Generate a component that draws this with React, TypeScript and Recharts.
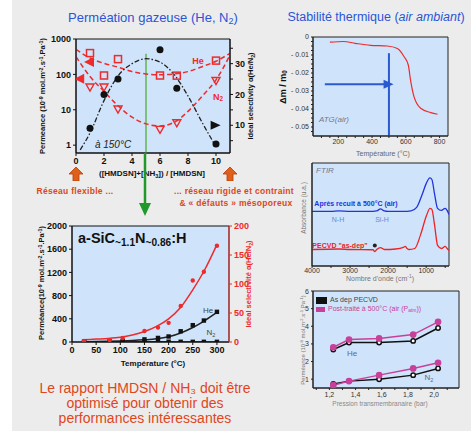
import React from "react";
import {
  ComposedChart,
  Line,
  Scatter,
  XAxis,
  YAxis,
  CartesianGrid,
  ReferenceLine,
  ReferenceArea,
  Legend,
} from "recharts";

const FONT = '"Liberation Sans", Arial, sans-serif';
const PLOT_BG = "#cfe4fa";
const PANEL_BG = "#ececec";
const RED = "#ee2a2a";
const BLUE_TITLE = "#2a55d6";
const ORANGE = "#d9481a";
const MAGENTA = "#c8409a";

// Perméation gazeuse vs ([HMDSN]+[NH3])/[HMDSN], at 150°C
const ratioTicks = [0, 2, 4, 6, 8, 10];
const permLogTicks = [1, 10, 100, 1000];
const selRatioTicks = [5, 10, 15, 20, 25, 30, 35];
const ratioX = [1, 2, 3, 6, 7.2, 10];
const heRatioPerm = [400, 93, 270, 93, 92, 245];
const n2RatioPerm = [44, 44, 10.5, 2.8, 4.3, 67];
const selRatio = [9, 20, 25, 34.5, 22, 3.9];
const fitRatioX = [0, 1, 2, 3, 4, 5, 6, 7, 8, 9, 10, 11];
const heRatioFit = [510, 290, 205, 160, 120, 103, 97, 103, 120, 165, 235, 395];
const n2RatioFit = [316, 87, 33, 13, 6.2, 4, 3.5, 4.4, 9, 24, 70, 350];
const selFitX = [0.3, 1, 2, 3, 4, 5, 6, 7, 8, 9, 10];
const selRatioFit = [2, 7.5, 18, 26, 30, 31.6, 30.5, 26.5, 19.5, 11, 3];
const permArrowX = [1, 0.3];
const permArrowY = [225, 75];
const selArrowX = [9.9];
const selArrowY = [10];

// a-SiCN:H vs température
const tempTicks = [0, 50, 100, 150, 200, 250, 300];
const permLinTicks = [0, 400, 800, 1200, 1600, 2000];
const selTempTicks = [0, 50, 100, 150, 200];
const tempX = [25, 78, 105, 150, 178, 200, 225, 250, 273, 300];
const heTemp = [5, 10, 20, 45, 70, 95, 185, 290, 370, 520];
const n2Temp = [0, 2, 3, 5, 5, 5, 4, 3, 3, 3];
const selTemp = [2, 3, 7, 19, 25, 33, 62, 106, 121, 166];
const fitTempX = [25, 50, 75, 100, 125, 150, 175, 200, 225, 250, 275, 300];
const heTempFit = [5, 8, 12, 18, 26, 38, 55, 90, 155, 250, 370, 510];
const selTempFit = [4, 5, 6, 8, 12, 18, 27, 40, 60, 90, 125, 168];

// ATG (air)
const atgXTicks = [100, 150, 200, 250, 300, 350, 400, 450, 500, 550, 600, 650, 700, 750, 800];
const atgYTicks = [0, -0.0025, -0.005, -0.0075, -0.01, -0.0125, -0.015, -0.0175, -0.02, -0.0225, -0.025, -0.0275, -0.03, -0.0325, -0.035, -0.0375, -0.04, -0.0425, -0.045, -0.0475, -0.05, -0.0525];
const atgT = [150, 230, 300, 390, 490, 550, 590, 615, 628, 648, 688, 748, 788];
const atgDm = [-0.0029, -0.0025, -0.0035, -0.0046, -0.005, -0.0064, -0.011, -0.0157, -0.024, -0.033, -0.0396, -0.042, -0.0429];
const atgArrowX = [492];
const atgArrowY = [-0.0263];

// FTIR
const ftirTicks = [4000, 3500, 3000, 2500, 2000, 1500, 1000, 500];
const waveRecuit = [4000, 3500, 3300, 3000, 2500, 2300, 2200, 2100, 2000, 1600, 1400, 1250, 1100, 1000, 900, 850, 780, 700, 600, 500, 450, 400];
const absRecuit = [0.53, 0.53, 0.535, 0.53, 0.53, 0.535, 0.555, 0.535, 0.53, 0.53, 0.535, 0.57, 0.7, 0.8, 0.855, 0.84, 0.7, 0.56, 0.54, 0.56, 0.54, 0.5];
const waveAsDep = [4000, 3300, 3000, 2400, 2350, 2300, 2200, 2100, 1800, 1600, 1550, 1500, 1450, 1300, 1150, 1000, 900, 850, 780, 700, 600, 500, 450, 400];
const absAsDep = [0.16, 0.165, 0.16, 0.158, 0.14, 0.16, 0.178, 0.16, 0.165, 0.18, 0.19, 0.17, 0.16, 0.17, 0.3, 0.48, 0.56, 0.55, 0.4, 0.2, 0.17, 0.19, 0.17, 0.15];
const starX = [2350];
const starY = [0.2];

// Perméance vs pression transmembranaire
const pressTicks = [1.1, 1.2, 1.3, 1.4, 1.5, 1.6, 1.7, 1.8, 1.9, 2.0, 2.1];
const permPressTicks = [1, 2, 3, 4, 5, 6];
const pressX = [1.23, 1.35, 1.58, 1.84, 2.03];
const heAsDep = [2.68, 3.08, 3.08, 3.17, 3.9];
const hePost = [2.81, 3.25, 3.31, 3.53, 4.25];
const n2AsDep = [0.73, 0.89, 1.0, 1.23, 1.61];
const n2Post = [0.66, 0.89, 1.23, 1.61, 1.93];

const pts = (xs: number[], ys: number[]) => xs.map((x, i) => ({ x, y: ys[i] }));

const OpenSquare = (p: any) => (
  <rect x={p.cx - 3.5} y={p.cy - 3.5} width={7} height={7} fill="none" stroke={RED} strokeWidth={1.5} />
);
const OpenTriDown = (p: any) => (
  <path d={`M${p.cx - 4},${p.cy - 3}L${p.cx + 4},${p.cy - 3}L${p.cx},${p.cy + 4}Z`} fill="none" stroke={RED} strokeWidth={1.4} />
);
const LeftArrow = (p: any) => (
  <path d={`M${p.cx - 6},${p.cy}L${p.cx + 4},${p.cy - 5}L${p.cx + 4},${p.cy + 5}Z`} fill={RED} />
);
const RightArrow = (color: string) => (p: any) => (
  <path d={`M${p.cx + 6},${p.cy}L${p.cx - 4},${p.cy - 4.5}L${p.cx - 4},${p.cy + 4.5}Z`} fill={color} />
);
const BlackDot = (p: any) => <circle cx={p.cx} cy={p.cy} r={3.5} fill="#111" />;
const SmallSquare = (p: any) => <rect x={p.cx - 2.2} y={p.cy - 2.2} width={4.4} height={4.4} fill="#111" />;
const SmallRedDot = (p: any) => <circle cx={p.cx} cy={p.cy} r={2.2} fill={RED} />;
const TinyDot = (p: any) => <circle cx={p.cx} cy={p.cy} r={2} fill="#222" />;

const Sup = ({ children }: { children: React.ReactNode }) => (
  <span style={{ fontSize: "0.7em", verticalAlign: "0.45em" }}>{children}</span>
);
const Sub = ({ children }: { children: React.ReactNode }) => (
  <span style={{ fontSize: "0.7em", verticalAlign: "-0.3em", lineHeight: 0 }}>{children}</span>
);

const T = ({ x, y, rot = 0, style, children }: any) => (
  <div
    style={{
      position: "absolute",
      left: x,
      top: y,
      transform: `translate(-50%, -50%) rotate(${rot}deg)`,
      whiteSpace: "nowrap",
      lineHeight: 1,
      fontFamily: FONT,
      ...style,
    }}
  >
    {children}
  </div>
);

const Box = ({ left, top, children }: any) => (
  <div style={{ position: "absolute", left, top }}>{children}</div>
);

const UpArrow = ({ x, y }: { x: number; y: number }) => (
  <svg style={{ position: "absolute", left: x - 7, top: y }} width={14} height={14}>
    <path d="M7,0L14,7L10,7L10,14L4,14L4,7L0,7Z" fill="#e0601a" stroke="#b83c08" strokeWidth={0.8} />
  </svg>
);

const tickBold = { fontSize: 9, fill: "#111", fontWeight: 700, fontFamily: FONT };
const tickRed = { fontSize: 9, fill: RED, fontWeight: 700, fontFamily: FONT };
const tickSmall = { fontSize: 7, fill: "#333", fontFamily: FONT };

const fmtAtg = (v: number) => {
  const r = Math.round(v * 10000);
  if (r === 0) return "0";
  if (r % 100 !== 0) return "";
  return `- ${Math.abs(v).toFixed(2)}`;
};

const App: React.FC = () => {
  return (
    <div style={{ position: "absolute", left: 0, top: 0, width: 471, height: 434, background: "#fff", overflow: "hidden" }}>
      <div style={{ position: "absolute", left: 12, top: 0, width: 459, height: 431, background: PANEL_BG }} />

      {/* titles */}
      <T x={153} y={17} style={{ fontSize: 13, color: BLUE_TITLE }}>
        Perméation gazeuse (He, N<Sub>2</Sub>)
      </T>
      <T x={376} y={17} style={{ fontSize: 12.5, color: BLUE_TITLE }}>
        Stabilité thermique (<i>air ambiant</i>)
      </T>

      {/* top-left: permeance & selectivity vs ratio */}
      <Box left={40} top={30}>
        <ComposedChart width={220} height={143} margin={{ top: 9, right: 0, bottom: 0, left: 0 }}>
          <CartesianGrid yAxisId="perm" fill={PLOT_BG} horizontal={false} vertical={false} />
          <XAxis type="number" dataKey="x" domain={[0, 11]} ticks={ratioTicks} interval={0} height={20} tick={tickBold} tickSize={3} allowDataOverflow stroke="#111" />
          <YAxis yAxisId="perm" dataKey="y" type="number" scale="log" domain={[0.6, 1000]} ticks={permLogTicks} interval={0} width={36} tick={tickBold} tickSize={3} allowDataOverflow stroke="#111" />
          <YAxis yAxisId="sel" dataKey="y" orientation="right" type="number" domain={[1, 38]} ticks={selRatioTicks} interval={0} tickFormatter={(v: number) => (v % 10 === 0 ? String(v) : "")} width={30} tick={tickBold} tickSize={3} allowDataOverflow stroke="#111" />
          <ReferenceArea yAxisId="perm" x1={0} x2={11} y1={0.6} y2={1000} fill="none" fillOpacity={0} stroke="#111" strokeWidth={1} ifOverflow="visible" />
          <ReferenceLine yAxisId="perm" segment={[{ x: 5, y: 380 }, { x: 5, y: 0.6 }]} stroke="#7cc07c" strokeWidth={2} ifOverflow="visible" />
          <Line yAxisId="perm" data={pts(fitRatioX, heRatioFit)} dataKey="y" type="monotone" stroke={RED} strokeWidth={1.5} strokeDasharray="5 3" dot={false} isAnimationActive={false} />
          <Line yAxisId="perm" data={pts(fitRatioX, n2RatioFit)} dataKey="y" type="monotone" stroke={RED} strokeWidth={1.5} strokeDasharray="5 3" dot={false} isAnimationActive={false} />
          <Line yAxisId="sel" data={pts(selFitX, selRatioFit)} dataKey="y" type="monotone" stroke="#222" strokeWidth={1.3} strokeDasharray="5 2 1.5 2" dot={false} isAnimationActive={false} />
          <Scatter yAxisId="perm" data={pts(ratioX, heRatioPerm)} shape={OpenSquare} isAnimationActive={false} />
          <Scatter yAxisId="perm" data={pts(ratioX, n2RatioPerm)} shape={OpenTriDown} isAnimationActive={false} />
          <Scatter yAxisId="perm" data={pts(permArrowX, permArrowY)} shape={LeftArrow} isAnimationActive={false} />
          <Scatter yAxisId="sel" data={pts(ratioX, selRatio)} shape={BlackDot} isAnimationActive={false} />
          <Scatter yAxisId="sel" data={pts(selArrowX, selArrowY)} shape={RightArrow("#111")} isAnimationActive={false} />
        </ComposedChart>
      </Box>
      <T x={113} y={145} style={{ fontSize: 10, fontStyle: "italic", color: "#222" }}>à 150°C</T>
      <T x={198} y={61} style={{ fontSize: 9, fontWeight: 700, color: RED }}>He</T>
      <T x={218} y={97} style={{ fontSize: 9, fontWeight: 700, color: RED }}>N<Sub>2</Sub></T>
      <T x={43} y={96} rot={-90} style={{ fontSize: 7.5, fontWeight: 700, color: "#111" }}>
        Permeance (10<Sup>-9</Sup> mol.m<Sup>-2</Sup>.s<Sup>-1</Sup>.Pa<Sup>-1</Sup>)
      </T>
      <T x={251} y={96} rot={-90} style={{ fontSize: 7.5, fontWeight: 700, color: "#111" }}>
        Ideal selectivity α(He/N<Sub>2</Sub>)
      </T>
      <T x={152} y={174} style={{ fontSize: 8, fontWeight: 700, color: "#111" }}>
        ([HMDSN]+[NH<Sub>3</Sub>]) / [HMDSN]
      </T>
      <UpArrow x={76} y={167} />
      <UpArrow x={230} y={167} />
      <T x={75} y={191} style={{ fontSize: 8.5, fontWeight: 700, color: ORANGE, letterSpacing: 0.3 }}>Réseau flexible ...</T>
      <T x={234} y={191} style={{ fontSize: 8.5, fontWeight: 700, color: ORANGE, letterSpacing: 0.3 }}>... réseau rigide et contraint</T>
      <T x={236} y={203} style={{ fontSize: 8.5, fontWeight: 700, color: ORANGE, letterSpacing: 0.3 }}>&amp; « défauts » mésoporeux</T>
      <svg style={{ position: "absolute", left: 139, top: 153 }} width={12} height={64}>
        <line x1={6} y1={0} x2={6} y2={52} stroke="#1f9a2a" strokeWidth={2.5} />
        <path d="M0,50L12,50L6,63Z" fill="#1f9a2a" />
      </svg>

      {/* bottom-left: a-SiCN:H vs temperature */}
      <Box left={40} top={220}>
        <ComposedChart width={217} height={140} margin={{ top: 6, right: 0, bottom: 0, left: 0 }}>
          <CartesianGrid yAxisId="perm" fill={PLOT_BG} horizontal={false} vertical={false} />
          <XAxis type="number" dataKey="x" domain={[0, 325]} ticks={tempTicks} interval={0} height={18} tick={tickBold} tickSize={3} allowDataOverflow stroke="#111" />
          <YAxis yAxisId="perm" dataKey="y" type="number" domain={[0, 2000]} ticks={permLinTicks} interval={0} width={32} tick={tickBold} tickSize={3} allowDataOverflow stroke="#111" />
          <YAxis yAxisId="sel" dataKey="y" orientation="right" type="number" domain={[0, 200]} ticks={selTempTicks} interval={0} width={28} tick={tickRed} tickSize={3} allowDataOverflow stroke={RED} />
          <ReferenceArea yAxisId="perm" x1={0} x2={325} y1={0} y2={2000} fill="none" fillOpacity={0} stroke="#111" strokeWidth={1} ifOverflow="visible" />
          <Line yAxisId="sel" data={pts(fitTempX, selTempFit)} dataKey="y" type="monotone" stroke={RED} strokeWidth={1.5} dot={false} isAnimationActive={false} />
          <Line yAxisId="perm" data={pts(fitTempX, heTempFit)} dataKey="y" type="monotone" stroke="#222" strokeWidth={1.5} dot={false} isAnimationActive={false} />
          <Line yAxisId="perm" data={pts(tempX, n2Temp)} dataKey="y" type="monotone" stroke="#222" strokeWidth={1.2} dot={false} isAnimationActive={false} />
          <Scatter yAxisId="perm" data={pts(tempX, n2Temp)} shape={SmallSquare} isAnimationActive={false} />
          <Scatter yAxisId="perm" data={pts(tempX, heTemp)} shape={SmallSquare} isAnimationActive={false} />
          <Scatter yAxisId="sel" data={pts(tempX, selTemp)} shape={SmallRedDot} isAnimationActive={false} />
        </ComposedChart>
      </Box>
      <div style={{ position: "absolute", left: 78, top: 231, fontFamily: FONT, fontSize: 14.5, fontWeight: 700, color: "#111", whiteSpace: "nowrap", lineHeight: 1 }}>
        a-SiC<Sub>~1.1</Sub>N<Sub>~0.86</Sub>:H
      </div>
      <T x={208} y={311} style={{ fontSize: 8, color: "#444" }}>He</T>
      <T x={211} y={333} style={{ fontSize: 8, color: "#444" }}>N<Sub>2</Sub></T>
      <T x={42} y={283} rot={-90} style={{ fontSize: 7.5, fontWeight: 700, color: "#111" }}>
        Perméance(10<Sup>-9</Sup> mol.m<Sup>-2</Sup>.s<Sup>-1</Sup>.Pa<Sup>-1</Sup>)
      </T>
      <T x={249} y={284} rot={-90} style={{ fontSize: 7.5, fontWeight: 700, color: RED }}>
        Ideal selectivité α(He/N<Sub>2</Sub>)
      </T>
      <T x={153} y={364} style={{ fontSize: 8, fontWeight: 700, color: "#111" }}>Température (°C)</T>
      <div style={{ position: "absolute", left: 20, top: 381, width: 250, textAlign: "center", fontFamily: FONT, fontSize: 14, lineHeight: "15px", color: "#e0461c" }}>
        Le rapport HMDSN / NH₃ doit être
        <br />
        optimisé pour obtenir des
        <br />
        performances intéressantes
      </div>

      {/* top-right: ATG */}
      <Box left={275} top={32}>
        <ComposedChart width={175} height={118} margin={{ top: 5, right: 2, bottom: 0, left: 0 }}>
          <CartesianGrid fill={PLOT_BG} horizontal={false} vertical={false} />
          <XAxis type="number" dataKey="x" domain={[50, 850]} ticks={atgXTicks} interval={0} tickFormatter={(v: number) => (v % 200 === 0 ? String(v) : "")} height={14} tick={tickSmall} tickSize={2} tickMargin={1} allowDataOverflow stroke="#222" />
          <YAxis dataKey="y" type="number" domain={[-0.055, 0]} ticks={atgYTicks} interval={0} tickFormatter={fmtAtg} width={38} tick={tickSmall} tickSize={2} tickMargin={2} allowDataOverflow stroke="#222" />
          <ReferenceArea x1={50} x2={850} y1={-0.055} y2={0} fill="none" fillOpacity={0} stroke="#222" strokeWidth={1} ifOverflow="visible" />
          <ReferenceLine segment={[{ x: 500, y: -0.009 }, { x: 500, y: -0.055 }]} stroke="#2a5ad0" strokeWidth={2} ifOverflow="visible" />
          <ReferenceLine segment={[{ x: 120, y: -0.0263 }, { x: 490, y: -0.0263 }]} stroke="#2a5ad0" strokeWidth={2} />
          <Scatter data={pts(atgArrowX, atgArrowY)} shape={RightArrow("#2a5ad0")} isAnimationActive={false} />
          <Line data={pts(atgT, atgDm)} dataKey="y" type="monotone" stroke={RED} strokeWidth={1.2} dot={false} isAnimationActive={false} />
        </ComposedChart>
      </Box>
      <T x={334} y={120} style={{ fontSize: 8, fontStyle: "italic", color: "#778" }}>ATG(air)</T>
      <T x={283} y={87} rot={-90} style={{ fontSize: 9, fontWeight: 700, color: "#111" }}>
        Δm / m<Sub>0</Sub>
      </T>
      <T x={383} y={153} style={{ fontSize: 7, color: "#666" }}>Température (°C)</T>

      {/* middle-right: FTIR */}
      <Box left={304} top={160}>
        <ComposedChart width={147} height={118} margin={{ top: 3, right: 2, bottom: 0, left: 0 }}>
          <CartesianGrid fill={PLOT_BG} horizontal={false} vertical={false} />
          <XAxis type="number" dataKey="x" domain={[400, 4000]} reversed ticks={ftirTicks} interval={0} tickFormatter={(v: number) => (v % 1000 === 0 ? String(v) : "")} height={12} tick={tickSmall} tickSize={2} tickMargin={0} allowDataOverflow stroke="#222" />
          <YAxis dataKey="y" type="number" domain={[0, 1]} tick={false} width={8} tickSize={0} allowDataOverflow stroke="#222" />
          <ReferenceArea x1={400} x2={4000} y1={0} y2={1} fill="none" fillOpacity={0} stroke="#222" strokeWidth={1} ifOverflow="visible" />
          <Line data={pts(waveRecuit, absRecuit)} dataKey="y" type="monotone" stroke="#2233dd" strokeWidth={1.3} dot={false} isAnimationActive={false} />
          <Line data={pts(waveAsDep, absAsDep)} dataKey="y" type="monotone" stroke="#ee2222" strokeWidth={1.3} dot={false} isAnimationActive={false} />
          <Scatter data={pts(starX, starY)} shape={TinyDot} isAnimationActive={false} />
        </ComposedChart>
      </Box>
      <T x={325} y={171} style={{ fontSize: 8, fontStyle: "italic", color: "#778" }}>FTIR</T>
      <T x={356} y={203} style={{ fontSize: 7, fontWeight: 700, color: "#2233dd" }}>Après recuit à 500°C (air)</T>
      <T x={338} y={219} style={{ fontSize: 7, color: "#6688dd" }}>N-H</T>
      <T x={382} y={219} style={{ fontSize: 7, color: "#6688dd" }}>Si-H</T>
      <T x={340} y={245} style={{ fontSize: 7, fontWeight: 700, color: "#ee2222" }}>PECVD "as-dep"</T>
      <T x={304} y={208} rot={-90} style={{ fontSize: 6.5, color: "#777" }}>Absorbance (u.a.)</T>
      <T x={380} y={278} style={{ fontSize: 7, color: "#777" }}>Nombre d'onde (cm<Sup>-1</Sup>)</T>

      {/* bottom-right: permeance vs transmembrane pressure */}
      <Box left={301} top={288}>
        <ComposedChart width={160} height={114} margin={{ top: 3, right: 2, bottom: 0, left: 0 }}>
          <CartesianGrid fill={PLOT_BG} horizontal={false} vertical={false} />
          <XAxis type="number" dataKey="x" domain={[1.075, 2.19]} ticks={pressTicks} interval={0} tickFormatter={(v: number) => (Math.round(v * 10) % 2 === 0 ? v.toFixed(1).replace(".", ",") : "")} height={14} tick={tickSmall} tickSize={2} tickMargin={2} allowDataOverflow stroke="#222" />
          <YAxis dataKey="y" type="number" domain={[0.5, 6]} ticks={permPressTicks} interval={0} width={12} tick={tickSmall} tickSize={2} tickMargin={2} allowDataOverflow stroke="#222" />
          <ReferenceArea x1={1.075} x2={2.19} y1={0.5} y2={6} fill="none" fillOpacity={0} stroke="#222" strokeWidth={1} ifOverflow="visible" />
          <Legend
            layout="vertical"
            verticalAlign="middle"
            align="center"
            wrapperStyle={{ position: "absolute", top: 7, left: 15, width: "auto", height: "auto" }}
            content={() => (
              <div style={{ fontFamily: FONT, fontSize: 7, lineHeight: "9px", textAlign: "left" }}>
                <div style={{ color: "#444" }}>
                  <span style={{ display: "inline-block", width: 9, height: 5, background: "#111", border: "1px solid #111", marginRight: 3, verticalAlign: "middle" }} />
                  As dep PECVD
                </div>
                <div style={{ color: MAGENTA }}>
                  <span style={{ display: "inline-block", width: 9, height: 5, background: MAGENTA, marginRight: 3, verticalAlign: "middle" }} />
                  Post-traité à 500°C (air (P<Sub>atm</Sub>))
                </div>
              </div>
            )}
          />
          <Line data={pts(pressX, heAsDep)} dataKey="y" stroke="#111" strokeWidth={1.5} dot={{ r: 2.2, fill: "#fff", stroke: "#111", strokeWidth: 1.5 }} isAnimationActive={false} />
          <Line data={pts(pressX, n2AsDep)} dataKey="y" stroke="#111" strokeWidth={1.5} dot={{ r: 2.2, fill: "#fff", stroke: "#111", strokeWidth: 1.5 }} isAnimationActive={false} />
          <Line data={pts(pressX, hePost)} dataKey="y" stroke={MAGENTA} strokeWidth={1.5} dot={{ r: 2.6, fill: MAGENTA, stroke: MAGENTA }} isAnimationActive={false} />
          <Line data={pts(pressX, n2Post)} dataKey="y" stroke={MAGENTA} strokeWidth={1.5} dot={{ r: 2.6, fill: MAGENTA, stroke: MAGENTA }} isAnimationActive={false} />
        </ComposedChart>
      </Box>
      <T x={352} y={354} style={{ fontSize: 8, color: "#5a6a8a" }}>He</T>
      <T x={429} y={378} style={{ fontSize: 8, color: "#5a6a8a" }}>N<Sub>2</Sub></T>
      <T x={303} y={340} rot={-90} style={{ fontSize: 6, color: "#777" }}>
        Perméance (10<Sup>-8</Sup> mol.m<Sup>-2</Sup>.s<Sup>-1</Sup>.Pa<Sup>-1</Sup>)
      </T>
      <T x={380} y={404} style={{ fontSize: 6.5, color: "#888" }}>Pression transmembranaire (bar)</T>
    </div>
  );
};

export default App;
